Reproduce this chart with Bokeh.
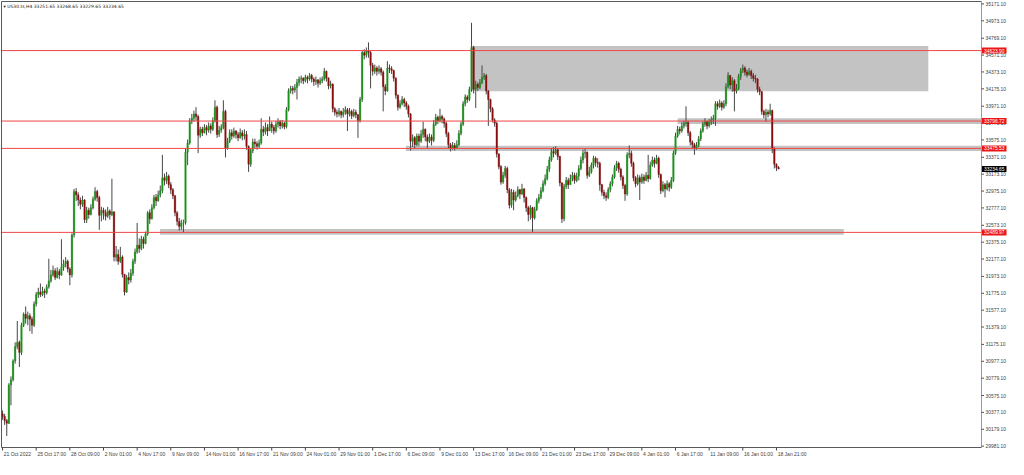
from bokeh.plotting import figure
from bokeh.models import Range1d, ColumnDataSource
from bokeh.embed import file_html
from bokeh.resources import INLINE
from bokeh.core.properties import value

symbol_title = "\u25be US30.ts,H4  33251.65 33268.65 33229.65 33234.65"

first_open = 30360

closes = [
    30330, 30280, 30250, 30700, 30760, 30980, 31150, 31200, 31080, 31400,
    31530, 31480, 31510, 31470, 31400, 31650, 31760, 31790, 31760, 31800,
    31780, 31850, 31920, 31990, 32040, 31960, 32030, 31990, 32080, 32120,
    32150, 32060, 31990, 32460, 32970, 32930, 32870, 32820, 32870, 32640,
    32750, 32700, 32780, 32880, 32970, 32900, 32690, 32750, 32720, 32680,
    32740, 32700, 32730, 32200, 32230, 32150, 32200, 32000, 31790, 31960,
    31930, 32010, 32150, 32260, 32340, 32300, 32410, 32360, 32470, 32720,
    32650, 32780, 32900, 32860, 32930, 32980, 33130, 33100, 33150, 33050,
    32990, 32920, 32720, 32620, 32560, 32600, 32600, 33430, 33540, 33800,
    33830, 33880, 33850, 33630, 33700, 33660, 33720, 33690, 33740, 33700,
    33800, 33960, 33640, 33690, 33720, 33910, 33480, 33560, 33660, 33620,
    33680, 33640, 33600, 33660, 33620, 33640, 33500, 33290, 33450, 33550,
    33530, 33500, 33540, 33700, 33670, 33720, 33680, 33760, 33720, 33680,
    33760, 33790, 33740, 33770, 33730, 33930, 34150, 34180, 34160, 34190,
    34250, 34290, 34300, 34270, 34310, 34290, 34330, 34290, 34260, 34280,
    34240, 34270, 34290, 34380, 34300, 34210, 34230, 33940, 33900, 33880,
    33910, 33870, 33900, 33930, 33880, 33910, 33860, 33900, 33870, 33800,
    34050, 34600, 34570, 34620, 34600, 34450, 34380, 34420, 34380, 34410,
    34370, 34200, 34150, 34420, 34410, 34390, 34300, 34100, 33960, 34000,
    34050, 34010, 33970, 33880, 33560, 33600, 33520, 33620, 33560, 33640,
    33700, 33610, 33560, 33610, 33570, 33760, 33840, 33800, 33850, 33820,
    33770, 33650, 33520, 33480, 33510, 33480, 33520, 33650, 33760, 34000,
    34080, 34050, 34170, 34660, 34170, 34230, 34190, 34250, 34310, 34330,
    34150, 34050, 33940, 33810, 33770, 33410, 33260, 33080, 33160, 33240,
    32990, 32810, 32960, 32870, 32920, 32990, 32940, 33000, 32900, 32780,
    32700, 32780, 32660, 32760, 32860, 32900, 32980, 33060, 33120, 33230,
    33340, 33440, 33420, 33460, 33380, 33070, 32650, 33030, 33100, 33050,
    33120, 33160, 33100, 33150, 33240, 33340, 33420, 33430, 33160, 33200,
    33280, 33360, 33310, 33300, 33050, 32960, 32920, 32900, 32990, 33060,
    33140, 33250, 33300, 33230, 33140, 33040, 32940, 33400, 33420, 33300,
    33130, 33060, 33130, 33080, 33140, 33100, 33160, 33120, 33280, 33340,
    33300, 33360, 33170, 32980, 33050, 33000, 33060, 33020, 33100, 33420,
    33620, 33700, 33680, 33740, 33770, 33780, 33660, 33550, 33520, 33480,
    33510, 33590, 33680, 33760, 33790, 33740, 33780, 33810, 33830, 34000,
    33970, 34010, 33960, 34000, 34200, 34330, 34220, 34270, 34150, 34180,
    34320, 34390, 34420, 34370, 34340, 34380, 34330, 34300, 34290, 34170,
    34140, 33910, 33870, 33900, 33880, 33920, 33470, 33290, 33251.65, 33234.65,
]

highs = [
    30400, 30360, 30300, 30720, 30800, 31000, 31200, 31450, 31220, 31430,
    31550, 31620, 31560, 31540, 31500, 31680, 31790, 31840, 31890, 31850,
    31830, 31880, 32180, 32050, 32100, 32070, 32080, 32060, 32410, 32170,
    32200, 32170, 32080, 32480, 33000, 33010, 32960, 32900, 32920, 32880,
    32790, 32780, 32820, 32910, 33020, 32990, 32920, 32790, 32780, 32760,
    32790, 32760, 33120, 32740, 32330, 32290, 32320, 32220, 32000, 31990,
    32020, 32060, 32180, 32300, 32600, 32420, 32450, 32440, 32500, 32740,
    32760, 32820, 32930, 32940, 32980, 33040, 33400, 33180, 33200, 33170,
    33080, 33010, 32930, 32740, 32660, 32640, 32640, 33470, 33580, 33830,
    33880, 33920, 33960, 33870, 33730, 33730, 33760, 33750, 33780, 33770,
    33840, 34040, 33980, 33740, 33760, 34040, 33930, 33600, 33700, 33700,
    33720, 33690, 33670, 33710, 33690, 33700, 33680, 33510, 33480, 33590,
    33590, 33560, 33580, 33830, 33740, 33780, 33760, 33850, 33790, 33750,
    33800, 33830, 33810, 33810, 33790, 33960, 34180, 34210, 34210, 34230,
    34290, 34320, 34330, 34310, 34340, 34330, 34360, 34350, 34310, 34320,
    34290, 34310, 34320, 34420, 34390, 34310, 34270, 34240, 33960, 33930,
    33950, 33920, 33950, 33970, 33950, 33950, 33930, 33940, 33930, 33880,
    34080, 34630, 34640, 34660, 34720, 34620, 34480, 34460, 34440, 34450,
    34430, 34390, 34230, 34500, 34460, 34440, 34400, 34310, 34110, 34040,
    34090, 34070, 34030, 33990, 33890, 33640, 33620, 33650, 33650, 33690,
    33790, 33710, 33640, 33650, 33640, 33810, 33880, 33860, 33940, 33870,
    33840, 33790, 33670, 33540, 33550, 33540, 33570, 33690, 33790, 34030,
    34110, 34100, 34200, 34950, 34680, 34270, 34250, 34290, 34450, 34360,
    34350, 34160, 34060, 33960, 33830, 33790, 33420, 33280, 33200, 33270,
    33260, 33010, 33000, 32990, 32970, 33030, 33000, 33060, 33010, 32910,
    32800, 32810, 32790, 32790, 32890, 32940, 33020, 33100, 33170, 33270,
    33380, 33480, 33490, 33500, 33470, 33390, 33080, 33060, 33140, 33130,
    33170, 33200, 33190, 33190, 33280, 33380, 33460, 33470, 33440, 33260,
    33310, 33390, 33380, 33360, 33320, 33060, 32990, 32960, 33020, 33090,
    33170, 33280, 33330, 33320, 33250, 33160, 33060, 33430, 33510, 33450,
    33320, 33150, 33170, 33160, 33180, 33170, 33200, 33400, 33320, 33380,
    33370, 33400, 33380, 33180, 33090, 33070, 33100, 33080, 33140, 33450,
    33660, 33740, 33730, 33780, 33800, 33970, 33800, 33680, 33570, 33540,
    33550, 33620, 33710, 33790, 33830, 33800, 33820, 33850, 33870, 34030,
    34030, 34050, 34030, 34040, 34240, 34370, 34340, 34310, 34290, 34230,
    34350, 34420, 34460, 34440, 34400, 34420, 34400, 34360, 34340, 34300,
    34200, 34150, 33930, 33940, 33930, 34000, 33930, 33490, 33300, 33268.65,
]

lows = [
    30290, 30230, 30100, 30240, 30460, 30740, 30950, 31120, 30910, 31050,
    31380, 31420, 31400, 31330, 31300, 31380, 31620, 31720, 31730, 31740,
    31720, 31760, 31830, 31900, 31970, 31930, 31950, 31940, 31980, 32040,
    32080, 32020, 31870, 31960, 32430, 32860, 32800, 32760, 32790, 32600,
    32600, 32650, 32690, 32760, 32860, 32850, 32520, 32620, 32640, 32630,
    32660, 32640, 32680, 32150, 32150, 32110, 32130, 31960, 31750, 31780,
    31880, 31900, 31980, 32120, 32240, 32250, 32280, 32300, 32350, 32450,
    32590, 32640, 32760, 32800, 32850, 32900, 32950, 33040, 33060, 33010,
    32940, 32880, 32680, 32570, 32510, 32520, 32490, 32580, 33280, 33520,
    33760, 33790, 33800, 33420, 33600, 33620, 33650, 33630, 33660, 33650,
    33680, 33780, 33600, 33610, 33660, 33700, 33370, 33460, 33540, 33580,
    33600, 33590, 33560, 33590, 33570, 33580, 33460, 33200, 33260, 33420,
    33480, 33460, 33480, 33520, 33620, 33640, 33620, 33680, 33660, 33640,
    33660, 33720, 33700, 33710, 33700, 33710, 33910, 34120, 34110, 34130,
    34050, 34210, 34240, 34230, 34250, 34240, 34270, 34250, 34210, 34220,
    34190, 34220, 34240, 34270, 34260, 34170, 34180, 33900, 33860, 33840,
    33850, 33830, 33840, 33870, 33680, 33850, 33820, 33840, 33830, 33600,
    33780, 34020, 34520, 34540, 34540, 34180, 34330, 34350, 34330, 34350,
    34330, 33910, 34100, 34140, 34360, 34350, 34260, 34060, 33920, 33940,
    33980, 33960, 33930, 33840, 33450, 33490, 33470, 33500, 33500, 33540,
    33600, 33560, 33480, 33540, 33510, 33550, 33740, 33760, 33780, 33770,
    33720, 33610, 33480, 33440, 33460, 33450, 33470, 33500, 33630, 33740,
    33970, 34010, 34030, 34140, 34120, 33950, 34150, 34170, 34230, 34280,
    34110, 33740, 33900, 33780, 33730, 33370, 33230, 33050, 33060, 33130,
    32950, 32770, 32780, 32750, 32850, 32900, 32880, 32930, 32840, 32730,
    32620, 32640, 32490, 32640, 32740, 32830, 32880, 32960, 33040, 33100,
    33200, 33320, 33370, 33400, 33340, 33030, 32600, 32620, 33000, 33000,
    33050, 33090, 33060, 33080, 33100, 33220, 33300, 33360, 33120, 33140,
    33180, 33240, 33260, 33250, 32980, 32920, 32880, 32860, 32880, 32960,
    33030, 33120, 33210, 33190, 33100, 33000, 32860, 32920, 33360, 33260,
    33090, 33020, 33040, 32870, 33060, 33060, 33090, 33080, 33110, 33260,
    33250, 33290, 33130, 32940, 32960, 32900, 32980, 32970, 33000, 33080,
    33400, 33600, 33640, 33660, 33710, 33730, 33620, 33510, 33480, 33400,
    33460, 33490, 33560, 33660, 33730, 33700, 33720, 33750, 33760, 33740,
    33930, 33950, 33920, 33940, 33970, 34180, 34170, 34140, 33910, 34120,
    34160, 34280, 34360, 34330, 34310, 34330, 34290, 34260, 34240, 34130,
    34100, 33870, 33830, 33790, 33840, 33860, 33420, 33240, 33210, 33229.65,
]

date_labels = ["21 Oct 2022", "25 Oct 17:00", "28 Oct 09:00", "2 Nov 01:00", "4 Nov 17:00",
               "9 Nov 09:00", "14 Nov 01:00", "16 Nov 17:00", "21 Nov 09:00", "24 Nov 01:00",
               "29 Nov 01:00", "1 Dec 17:00", "6 Dec 09:00", "9 Dec 01:00", "13 Dec 17:00",
               "16 Dec 09:00", "21 Dec 01:00", "23 Dec 17:00", "29 Dec 09:00", "4 Jan 01:00",
               "6 Jan 17:00", "11 Jan 09:00", "16 Jan 01:00", "18 Jan 21:00"]
date_label_bars = [0, 16, 32, 48, 64, 80, 96, 112, 128, 144, 160, 176, 192, 208, 224,
                   240, 256, 272, 288, 304, 320, 336, 352, 368]

price_ticks = [35171.10, 34973.10, 34769.10, 34571.10, 34373.10, 34175.10, 33971.10,
               33773.10, 33575.10, 33371.10, 33173.10, 32975.10, 32777.10, 32573.10,
               32375.10, 32177.10, 31973.10, 31775.10, 31577.10, 31379.10, 31175.10,
               30977.10, 30779.10, 30575.10, 30377.10, 30179.10, 29981.10]

level_prices = [34623.90, 33796.72, 33475.53, 32489.97]
current_price = 33234.65

zone_left = [222.7, 321.0, 191.8, 74.9]
zone_right = [440.2, None, None, 400.0]     # None: runs to the price axis
zone_top = [34678, 33829, 33506, 32531]
zone_bottom = [34146, 33761, 33444, 32463]

assert len(closes) == len(highs) == len(lows), (len(closes), len(highs), len(lows))

# ---------------------------------------------------------------- geometry
W, H = 1008, 459
X0, X1 = -0.5, 465.5          # bar-index span of the chart area
Y0, Y1 = 29965.0, 35200.0     # price span of the chart area
chart_left_px, chart_right_px = 1, 981
chart_top_px, chart_bottom_px = 1, 447
bx = (X1 - X0) / (chart_right_px - chart_left_px)     # bars per pixel
py = (Y1 - Y0) / (chart_bottom_px - chart_top_px)     # price per pixel
XR0 = X0 - chart_left_px * bx
XR1 = X1 + (W - chart_right_px) * bx
YR1 = Y1 + chart_top_px * py
YR0 = Y0 - (H - chart_bottom_px) * py

n = len(closes)
idx = list(range(n))
opens = [first_open] + closes[:-1]
hi = [max(h, o, c) for h, o, c in zip(highs, opens, closes)]
lo = [min(l, o, c) for l, o, c in zip(lows, opens, closes)]
up = [c >= o for o, c in zip(opens, closes)]
body_top = [max(o, c) for o, c in zip(opens, closes)]
body_bot = [min(o, c) for o, c in zip(opens, closes)]
colors = ["#1a921a" if u else "#8b0d0d" for u in up]

src = ColumnDataSource(dict(x=idx, h=hi, l=lo, bt=body_top, bb=body_bot, col=colors))

p = figure(width=W, height=H, output_backend="svg", toolbar_location=None,
           x_range=Range1d(XR0, XR1), y_range=Range1d(YR0, YR1),
           x_axis_location=None, y_axis_location=None,
           min_border=0, min_border_left=0, min_border_right=0,
           min_border_top=0, min_border_bottom=0,
           background_fill_color="white", border_fill_color="white",
           outline_line_color=None)
p.grid.visible = False

# zones (background objects)
zr = [r if r is not None else X1 for r in zone_right]
p.quad(left=zone_left, right=zr, top=zone_top, bottom=zone_bottom,
       fill_color="#c3c3c3", line_color=None)

# candles
p.segment(x0="x", y0="h", x1="x", y1="l", source=src, line_color="#464646", line_width=1)
p.vbar(x="x", width=0.7, top="bt", bottom="bb", source=src,
       fill_color="col", line_color="col", line_width=0.4)

# horizontal level lines
p.segment(x0=[X0] * len(level_prices), y0=level_prices,
          x1=[X1] * len(level_prices), y1=level_prices,
          line_color="#f04646", line_width=1)

# chart frame
p.segment(x0=[X0, X0, X0], y0=[Y0, Y1, Y0], x1=[X0, X1, X1], y1=[Y1, Y1, Y0],
          line_color="#5a5a5a", line_width=1)
p.segment(x0=[X1], y0=[Y0], x1=[X1], y1=[Y1], line_color="#9a9a9a", line_width=1)

# price axis ticks and labels
p.segment(x0=[X1] * len(price_ticks), y0=price_ticks,
          x1=[X1 + 2.5 * bx] * len(price_ticks), y1=price_ticks,
          line_color="#505050", line_width=1)
p.text(x=[X1 + 4 * bx] * len(price_ticks), y=price_ticks,
       text=[f"{t:.2f}" for t in price_ticks],
       text_font=value("Liberation Sans"), text_font_size=value("4.9px"),
       text_color="#404040", text_align="left", text_baseline="middle")

# date axis ticks and labels
p.segment(x0=date_label_bars, y0=[Y0] * len(date_label_bars),
          x1=date_label_bars, y1=[Y0 - 3 * py] * len(date_label_bars),
          line_color="#404040", line_width=1)
p.text(x=[b + 1.2 * bx for b in date_label_bars], y=[Y0 - 3 * py] * len(date_label_bars),
       text=date_labels,
       text_font=value("Liberation Sans"), text_font_size=value("5px"),
       text_color="#404040", text_align="left", text_baseline="top")

# price tags on the axis
tag_prices = level_prices + [current_price]
tag_colors = ["#ee1515"] * len(level_prices) + ["#000000"]
p.quad(left=[X1 + 0.5 * bx] * len(tag_prices), right=[X1 + 25 * bx] * len(tag_prices),
       top=[v + 3 * py for v in tag_prices], bottom=[v - 3 * py for v in tag_prices],
       fill_color=tag_colors, line_color=None)
p.text(x=[X1 + 2.5 * bx] * len(tag_prices), y=tag_prices,
       text=[f"{v:.2f}" for v in tag_prices],
       text_font=value("Liberation Sans"), text_font_size=value("4.9px"),
       text_color="white", text_align="left", text_baseline="middle")

# symbol line
p.text(x=[X0 + 2 * bx], y=[Y1 - 5 * py], text=[symbol_title],
       text_font=value("DejaVu Sans"), text_font_size=value("4.5px"),
       text_color="#202020", text_align="left", text_baseline="middle")

open("out.html", "w").write(file_html(p, INLINE))
